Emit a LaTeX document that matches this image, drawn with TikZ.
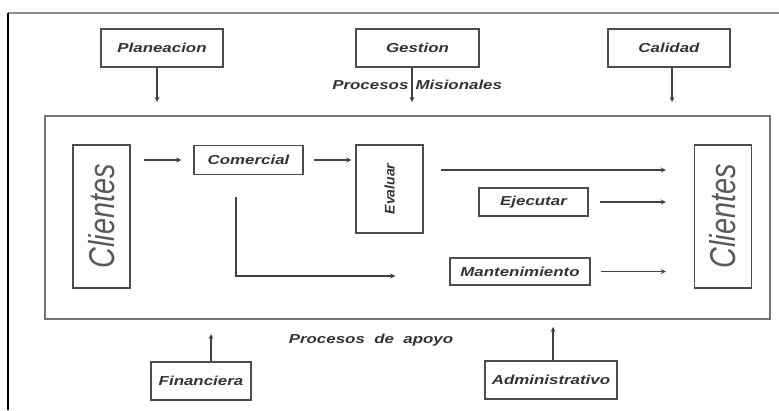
\documentclass[tikz,border=0pt]{standalone}
\usepackage{fontspec}
\usepackage{xcolor}
\usepackage{tikz}
\usetikzlibrary{shapes,arrows,positioning,fit,calc}

\newfontfamily\boxfont[FakeStretch=1.3]{Liberation Sans}
\newfontfamily\clientfont[FakeStretch=0.8]{Liberation Sans}
\newfontfamily\evalfont{Liberation Sans}

\begin{document}
\begin{tikzpicture}[
    x=1pt, y=-1pt,
    block/.style={rectangle, draw=black!70, line width=1.4pt, inner sep=0pt, font=\boxfont\bfseries\itshape\fontsize{13}{13}\selectfont, text=black!80},
    client/.style={rectangle, draw=black!70, line width=1.4pt, inner sep=0pt, minimum width=57pt, minimum height=143pt},
    arrow/.style={->, >=stealth, line width=1.2pt, draw=black!75},
    tag/.style={font=\boxfont\bfseries\itshape\fontsize{13}{13}\selectfont, text=black!80, inner sep=3pt}
]
    \useasboundingbox (0,0) rectangle (779,410);
    % page frame
    \draw[black!45, line width=2pt] (8,13) -- (779,13);
    \draw[black, line width=1.5pt] (8,13) -- (8,410);

    % Top boxes
    \node[block, minimum width=122pt, minimum height=38pt] (planeacion) at (162,48) {Planeacion};
    \node[block, minimum width=123pt, minimum height=38pt] (gestion) at (417.5,48) {Gestion};
    \node[block, minimum width=122pt, minimum height=38pt] (calidad) at (669,48) {Calidad};

    \coordinate (plan_end) at (157,102);
    \coordinate (gest_end) at (412,102);
    \coordinate (cal_end) at (672,102);
    \draw[arrow] (plan_end |- planeacion.south) -- (plan_end);
    \draw[arrow] (gest_end |- gestion.south) -- node[tag, left] {Procesos} node[tag, right] {Misionales} (gest_end);
    \draw[arrow] (cal_end |- calidad.south) -- (cal_end);

    % Main process box
    \node[rectangle, draw=black!55, line width=2pt, minimum width=725pt, minimum height=203pt] (procesos) at (407.5,217.5) {};

    \node[client] (cli_in) at (101.5,216.5) {};
    \node[rotate=90, font=\clientfont\itshape\fontsize{36}{36}\selectfont, text=black!65] at (cli_in) {Clientes};
    \node[client] (cli_out) at (723,216.5) {};
    \node[rotate=90, font=\clientfont\itshape\fontsize{36}{36}\selectfont, text=black!65] at (cli_out) {Clientes};

    \node[block, minimum width=109pt, minimum height=29pt] (comercial) at (248.5,160) {Comercial};
    \node[block, minimum width=67pt, minimum height=88pt] (evaluar) at (389.5,189) {};
    \node[rotate=90, font=\evalfont\bfseries\itshape\fontsize{14}{14}\selectfont, text=black!80] at (evaluar) {Evaluar};
    \node[block, minimum width=109pt, minimum height=28pt] (ejecutar) at (533.5,202) {Ejecutar};
    \node[block, minimum width=140pt, minimum height=27pt] (manten) at (520,271.5) {Mantenimiento};

    \coordinate (row1) at (0,170);
    \draw[arrow, shorten <=13pt, shorten >=12pt] (cli_in.east |- comercial) -- (comercial);
    \draw[arrow, shorten <=10pt, shorten >=4pt] (comercial) -- (evaluar.west |- comercial);
    \draw[arrow, shorten <=17pt, shorten >=28pt] (evaluar.east |- row1) -- (cli_out.west |- row1);
    \draw[arrow, shorten <=11pt, shorten >=28pt] (ejecutar) -- (cli_out.west |- ejecutar);
    \draw[arrow, shorten <=10pt, shorten >=28pt] (manten) -- (cli_out.west |- manten);
    \draw[arrow] ([xshift=-12.5pt, yshift=-22pt]comercial.south) |- ([xshift=-54pt, yshift=-4.5pt]manten.west);

    % Support processes
    \node[tag] (apoyo) at (371,340) {Procesos\ \ de\ \ apoyo};
    \node[block, minimum width=100pt, minimum height=38pt] (financiera) at (201,381) {Financiera};
    \node[block, minimum width=132pt, minimum height=38pt] (administrativo) at (551,380) {Administrativo};

    \coordinate (fin_end) at (211,334);
    \coordinate (adm_end) at (553,327);
    \draw[arrow] (fin_end |- financiera.north) -- (fin_end);
    \draw[arrow] (adm_end |- administrativo.north) -- (adm_end);
\end{tikzpicture}
\end{document}
